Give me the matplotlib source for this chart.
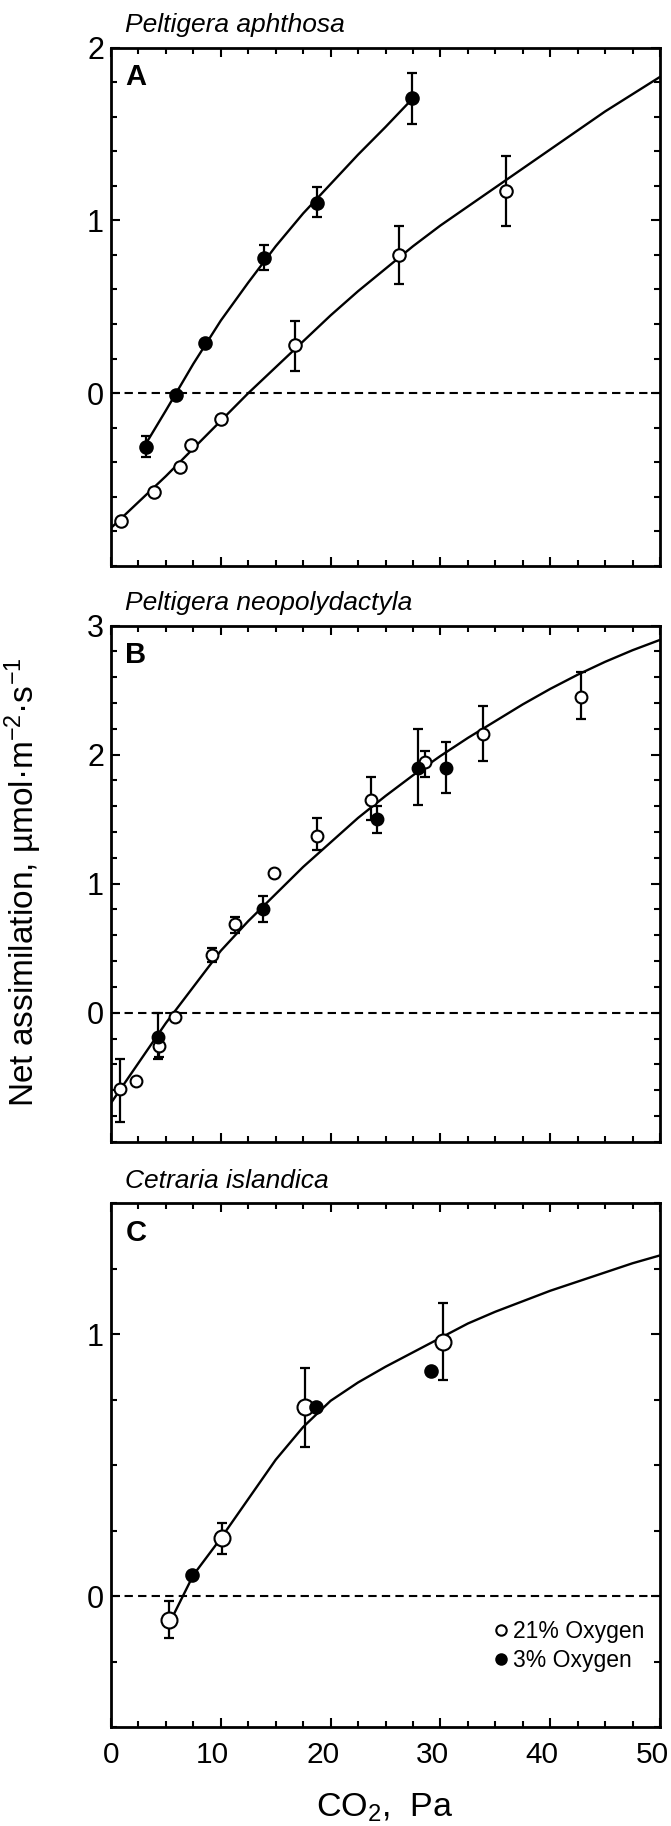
import matplotlib
matplotlib.use('Agg')
import matplotlib.pyplot as plt
import numpy as np
from matplotlib.ticker import MultipleLocator, FixedLocator
from matplotlib.lines import Line2D
import matplotlib.transforms as mtransforms

plt.rcParams['font.family'] = ['Liberation Sans', 'DejaVu Sans']
plt.rcParams['mathtext.fontset'] = 'custom'
plt.rcParams['mathtext.rm'] = 'Liberation Sans'
plt.rcParams['mathtext.it'] = 'Liberation Sans:italic'
plt.rcParams['mathtext.bf'] = 'Liberation Sans:bold'

# ---------------- Panel A: Peltigera aphthosa ----------------
a_open_x = [0.9, 3.9, 6.3, 7.3, 10.0, 16.8, 26.2, 36.0]
a_open_y = [-0.74, -0.57, -0.43, -0.30, -0.15, 0.28, 0.80, 1.17]
a_open_lo = [0, 0, 0, 0, 0, 0.15, 0.17, 0.20]
a_open_hi = [0, 0, 0, 0, 0, 0.14, 0.17, 0.20]
a_fill_x = [3.2, 5.9, 8.6, 13.9, 18.8, 27.4]
a_fill_y = [-0.31, -0.01, 0.29, 0.78, 1.10, 1.71]
a_fill_lo = [0.06, 0, 0, 0.07, 0.08, 0.15]
a_fill_hi = [0.06, 0, 0, 0.08, 0.09, 0.14]
a_curve21_x = [0, 2.5, 5, 7.5, 10, 12.5, 15, 17.5, 20, 22.5, 25, 27.5, 30, 32.5,
               35, 37.5, 40, 42.5, 45, 47.5, 50]
a_curve21_y = [-0.78, -0.63, -0.48, -0.32, -0.16, 0.0, 0.15, 0.30, 0.45, 0.59, 0.72,
               0.85, 0.97, 1.08, 1.19, 1.30, 1.41, 1.52, 1.63, 1.73, 1.83]
a_curve3_x = [3.2, 5, 7.5, 10, 12.5, 15, 17.5, 20, 22.5, 25, 27.4]
a_curve3_y = [-0.29, -0.10, 0.17, 0.42, 0.64, 0.85, 1.04, 1.21, 1.38, 1.54, 1.70]

# ---------------- Panel B: Peltigera neopolydactyla ----------------
b_open_x = [0.8, 2.3, 4.4, 5.8, 9.2, 11.3, 14.8, 18.8, 23.7, 28.6, 33.9, 42.8]
b_open_y = [-0.59, -0.53, -0.26, -0.03, 0.45, 0.69, 1.08, 1.37, 1.65, 1.94, 2.16, 2.45]
b_open_lo = [0.26, 0, 0.08, 0, 0.06, 0.075, 0, 0.11, 0.16, 0.11, 0.21, 0.17]
b_open_hi = [0.23, 0, 0.04, 0, 0.05, 0.05, 0, 0.14, 0.18, 0.09, 0.22, 0.19]
b_fill_x = [4.3, 13.8, 24.2, 28.0, 30.5]
b_fill_y = [-0.19, 0.80, 1.50, 1.90, 1.90]
b_fill_lo = [0.17, 0.095, 0.11, 0.29, 0.20]
b_fill_hi = [0.19, 0.105, 0.105, 0.30, 0.20]
b_curve_x = [0, 2.5, 5, 7.5, 10, 12.5, 15, 17.5, 20, 22.5, 25, 27.5, 30, 32.5,
             35, 37.5, 40, 42.5, 45, 47.5, 50]
b_curve_y = [-0.70, -0.39, -0.08, 0.20, 0.48, 0.71, 0.92, 1.13, 1.32, 1.51, 1.68,
             1.84, 1.99, 2.13, 2.26, 2.39, 2.51, 2.62, 2.72, 2.81, 2.89]

# ---------------- Panel C: Cetraria islandica ----------------
c_open_x = [5.3, 10.1, 17.7, 30.2]
c_open_y = [-0.09, 0.22, 0.72, 0.97]
c_open_lo = [0.07, 0.06, 0.15, 0.145]
c_open_hi = [0.07, 0.06, 0.15, 0.15]
c_fill_x = [7.4, 18.7, 29.1]
c_fill_y = [0.08, 0.72, 0.86]
c_fill_lo = [0, 0, 0]
c_fill_hi = [0, 0, 0]
c_curve_x = [5.6, 7.5, 10, 12.5, 15, 17.5, 20, 22.5, 25, 27.5, 30, 32.5, 35, 37.5,
             40, 42.5, 45, 47.5, 50]
c_curve_y = [-0.08, 0.08, 0.22, 0.37, 0.52, 0.645, 0.745, 0.815, 0.875, 0.93, 0.985,
             1.04, 1.085, 1.125, 1.165, 1.20, 1.235, 1.27, 1.30]

titles = ['Peltigera aphthosa', 'Peltigera neopolydactyla', 'Cetraria islandica']
letters = ['A', 'B', 'C']
x_ticks = [0, 10, 20, 30, 40, 50]
legend_labels = ['21% Oxygen', '3% Oxygen']

W, H = 671, 1826
fig = plt.figure(figsize=(W / 100, H / 100), dpi=100)


def add_axes(left, top, right, bottom):
    return fig.add_axes([left / W, 1 - bottom / H, (right - left) / W, (bottom - top) / H])


axA = add_axes(111, 47.5, 660, 566)
axB = add_axes(111, 625.7, 660, 1141.7)
axC = add_axes(111, 1203, 660, 1727)


def draw_points(ax, x, y, lo, hi, filled, ms):
    x = np.asarray(x, float); y = np.asarray(y, float)
    lo = np.asarray(lo, float); hi = np.asarray(hi, float)
    m = (lo > 0) | (hi > 0)
    if m.any():
        ax.errorbar(x[m], y[m], yerr=[lo[m], hi[m]], fmt='none', ecolor='black',
                    elinewidth=1.6, capsize=3.5, capthick=1.6, zorder=3)
    ax.plot(x, y, 'o', ms=ms, mfc='black' if filled else 'white', mec='black',
            mew=1.5, zorder=4, linestyle='none')


def style(ax, ylim, ymaj, ylabels, yminor):
    ax.set_xlim(0, 50)
    ax.set_ylim(*ylim)
    ax.xaxis.set_major_locator(FixedLocator(x_ticks))
    ax.xaxis.set_minor_locator(MultipleLocator(2.5))
    ax.yaxis.set_major_locator(FixedLocator(ymaj))
    ax.set_yticklabels(ylabels)
    ax.yaxis.set_minor_locator(MultipleLocator(yminor))
    ax.tick_params(which='both', direction='in', top=True, right=True, width=1.5)
    ax.tick_params(which='major', length=6.5)
    ax.tick_params(which='minor', length=4)
    ax.tick_params(axis='y', labelsize=22, pad=5)
    ax.tick_params(axis='x', labelsize=21.5, pad=10)
    for s in ax.spines.values():
        s.set_linewidth(2.0)
    ax.axhline(0, color='black', lw=1.5, ls=(0, (4, 2.5)), zorder=1)


for ax, t, l in zip([axA, axB, axC], titles, letters):
    tr = mtransforms.offset_copy(ax.transAxes, fig=fig, x=0, y=11, units='points')
    ax.text(0.026, 1.0, t, transform=tr, style='italic', fontsize=19,
            ha='left', va='baseline')
    ax.text(0.026, 0.97, l, transform=ax.transAxes, fontsize=21, fontweight='bold',
            ha='left', va='top')

# Panel A
axA.plot(a_curve21_x, a_curve21_y, color='black', lw=1.7, zorder=2)
axA.plot(a_curve3_x, a_curve3_y, color='black', lw=1.7, zorder=2)
draw_points(axA, a_open_x, a_open_y, a_open_lo, a_open_hi, False, 9)
draw_points(axA, a_fill_x, a_fill_y, a_fill_lo, a_fill_hi, True, 9)
style(axA, (-1, 2), [0, 1, 2], ['0', '1', '2'], 0.2)
axA.tick_params(axis='x', labelbottom=False)

# Panel B
axB.plot(b_curve_x, b_curve_y, color='black', lw=1.7, zorder=2)
draw_points(axB, b_open_x, b_open_y, b_open_lo, b_open_hi, False, 8.5)
draw_points(axB, b_fill_x, b_fill_y, b_fill_lo, b_fill_hi, True, 8.5)
style(axB, (-1, 3), [0, 1, 2, 3], ['0', '1', '2', '3'], 0.2)
axB.tick_params(axis='x', labelbottom=False)

# Panel C
axC.plot(c_curve_x, c_curve_y, color='black', lw=1.7, zorder=2)
draw_points(axC, c_open_x, c_open_y, c_open_lo, c_open_hi, False, 11.5)
draw_points(axC, c_fill_x, c_fill_y, c_fill_lo, c_fill_hi, True, 9)
style(axC, (-0.5, 1.5), [0, 1], ['0', '1'], 0.25)
axC.set_xticklabels([str(v) for v in x_ticks])
shift = mtransforms.ScaledTranslation(-8 / 100, 0, fig.dpi_scale_trans)
for lab in axC.get_xticklabels()[1:]:
    lab.set_transform(lab.get_transform() + shift)

handles = [Line2D([], [], marker='o', ls='none', ms=7.5, mfc='white', mec='black', mew=1.5),
           Line2D([], [], marker='o', ls='none', ms=7.5, mfc='black', mec='black', mew=1.5)]
axC.legend(handles, legend_labels, loc='upper left',
           bbox_to_anchor=(0.693, 0.205), frameon=False, fontsize=16.5,
           handlelength=0.8, handletextpad=0.12, labelspacing=0.3, borderpad=0,
           borderaxespad=0)

fig.text(23 / W, 1 - 882 / H, 'Net assimilation, µmol·m$^{-2}$·s$^{-1}$', rotation=90,
         ha='center', va='center', fontsize=24)
fig.text(385 / W, 1 - 1808 / H, 'CO$_2$,  Pa', ha='center', va='center', fontsize=24.5)

fig.savefig('out.png', dpi=100)
